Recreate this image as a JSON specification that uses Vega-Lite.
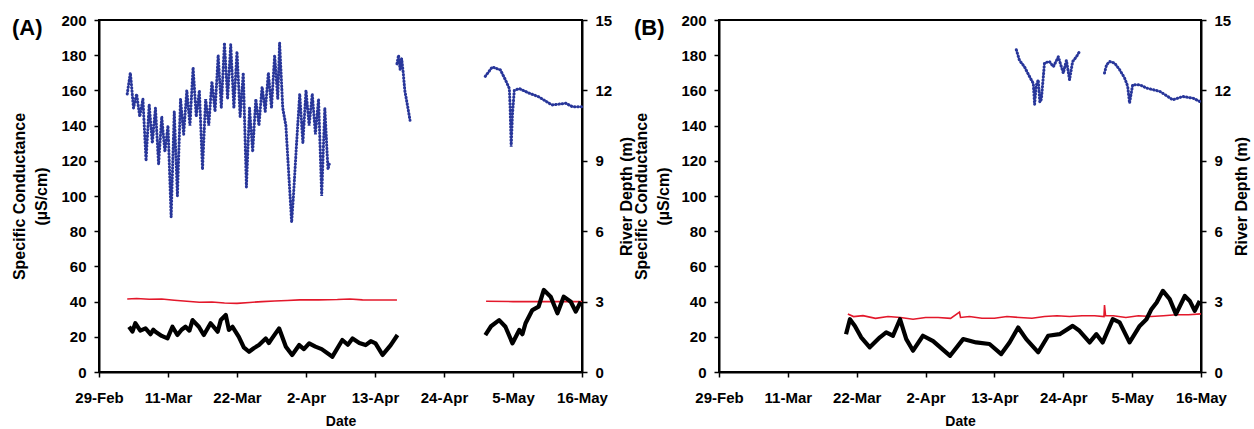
{
"$schema": "https://vega.github.io/schema/vega-lite/v6.json",
"padding": {"left": 10, "top": 12, "right": 0, "bottom": 0},
"spacing": -4,
"config": {
  "font": "Liberation Sans",
  "view": {"stroke": "black", "strokeWidth": 2},
  "axis": {"labelFont": "Liberation Sans", "labelFontWeight": "bold", "labelFontSize": 15, "labelColor": "black",
           "titleFont": "Liberation Sans", "titleFontWeight": "bold", "titleFontSize": 16, "titleColor": "black",
           "domainColor": "black", "domainWidth": 2, "tickColor": "black", "tickWidth": 1.5, "tickSize": 5, "grid": false, "labelOverlap": false}
},
"datasets": {"d": [
{"p":"A","s":"Depth","g":1,"t":"2008-03-04T12:00","v":11.85},
{"p":"A","s":"Depth","g":1,"t":"2008-03-05T00:00","v":12.75},
{"p":"A","s":"Depth","g":1,"t":"2008-03-05T12:00","v":11.25},
{"p":"A","s":"Depth","g":1,"t":"2008-03-06T00:00","v":11.85},
{"p":"A","s":"Depth","g":1,"t":"2008-03-06T12:00","v":10.88},
{"p":"A","s":"Depth","g":1,"t":"2008-03-07T00:00","v":11.63},
{"p":"A","s":"Depth","g":1,"t":"2008-03-07T12:00","v":9.0},
{"p":"A","s":"Depth","g":1,"t":"2008-03-08T00:00","v":11.4},
{"p":"A","s":"Depth","g":1,"t":"2008-03-08T12:00","v":9.75},
{"p":"A","s":"Depth","g":1,"t":"2008-03-09T00:00","v":11.25},
{"p":"A","s":"Depth","g":1,"t":"2008-03-09T12:00","v":8.85},
{"p":"A","s":"Depth","g":1,"t":"2008-03-10T00:00","v":10.88},
{"p":"A","s":"Depth","g":1,"t":"2008-03-10T12:00","v":9.38},
{"p":"A","s":"Depth","g":1,"t":"2008-03-11T00:00","v":10.5},
{"p":"A","s":"Depth","g":1,"t":"2008-03-11T12:00","v":6.6},
{"p":"A","s":"Depth","g":1,"t":"2008-03-12T00:00","v":11.1},
{"p":"A","s":"Depth","g":1,"t":"2008-03-12T12:00","v":7.5},
{"p":"A","s":"Depth","g":1,"t":"2008-03-13T00:00","v":11.63},
{"p":"A","s":"Depth","g":1,"t":"2008-03-13T12:00","v":10.13},
{"p":"A","s":"Depth","g":1,"t":"2008-03-14T00:00","v":12.0},
{"p":"A","s":"Depth","g":1,"t":"2008-03-14T12:00","v":10.5},
{"p":"A","s":"Depth","g":1,"t":"2008-03-15T00:00","v":12.98},
{"p":"A","s":"Depth","g":1,"t":"2008-03-15T12:00","v":10.88},
{"p":"A","s":"Depth","g":1,"t":"2008-03-16T00:00","v":12.0},
{"p":"A","s":"Depth","g":1,"t":"2008-03-16T12:00","v":8.63},
{"p":"A","s":"Depth","g":1,"t":"2008-03-17T00:00","v":11.63},
{"p":"A","s":"Depth","g":1,"t":"2008-03-17T12:00","v":10.5},
{"p":"A","s":"Depth","g":1,"t":"2008-03-18T00:00","v":12.38},
{"p":"A","s":"Depth","g":1,"t":"2008-03-18T12:00","v":11.1},
{"p":"A","s":"Depth","g":1,"t":"2008-03-19T00:00","v":13.5},
{"p":"A","s":"Depth","g":1,"t":"2008-03-19T12:00","v":11.25},
{"p":"A","s":"Depth","g":1,"t":"2008-03-20T00:00","v":14.03},
{"p":"A","s":"Depth","g":1,"t":"2008-03-20T12:00","v":11.63},
{"p":"A","s":"Depth","g":1,"t":"2008-03-21T00:00","v":13.95},
{"p":"A","s":"Depth","g":1,"t":"2008-03-21T12:00","v":11.25},
{"p":"A","s":"Depth","g":1,"t":"2008-03-22T00:00","v":13.65},
{"p":"A","s":"Depth","g":1,"t":"2008-03-22T12:00","v":10.88},
{"p":"A","s":"Depth","g":1,"t":"2008-03-23T00:00","v":12.75},
{"p":"A","s":"Depth","g":1,"t":"2008-03-23T12:00","v":7.88},
{"p":"A","s":"Depth","g":1,"t":"2008-03-24T00:00","v":11.25},
{"p":"A","s":"Depth","g":1,"t":"2008-03-24T12:00","v":9.38},
{"p":"A","s":"Depth","g":1,"t":"2008-03-25T00:00","v":11.63},
{"p":"A","s":"Depth","g":1,"t":"2008-03-25T12:00","v":10.5},
{"p":"A","s":"Depth","g":1,"t":"2008-03-26T00:00","v":12.15},
{"p":"A","s":"Depth","g":1,"t":"2008-03-26T12:00","v":11.1},
{"p":"A","s":"Depth","g":1,"t":"2008-03-27T00:00","v":12.75},
{"p":"A","s":"Depth","g":1,"t":"2008-03-27T12:00","v":11.25},
{"p":"A","s":"Depth","g":1,"t":"2008-03-28T00:00","v":13.5},
{"p":"A","s":"Depth","g":1,"t":"2008-03-28T12:00","v":11.63},
{"p":"A","s":"Depth","g":1,"t":"2008-03-28T19:00","v":14.03},
{"p":"A","s":"Depth","g":1,"t":"2008-03-29T07:00","v":11.25},
{"p":"A","s":"Depth","g":1,"t":"2008-03-29T19:00","v":10.5},
{"p":"A","s":"Depth","g":1,"t":"2008-03-30T07:00","v":8.25},
{"p":"A","s":"Depth","g":1,"t":"2008-03-30T17:00","v":6.38},
{"p":"A","s":"Depth","g":1,"t":"2008-03-31T00:00","v":7.5},
{"p":"A","s":"Depth","g":1,"t":"2008-03-31T12:00","v":9.75},
{"p":"A","s":"Depth","g":1,"t":"2008-04-01T00:00","v":11.85},
{"p":"A","s":"Depth","g":1,"t":"2008-04-01T12:00","v":9.75},
{"p":"A","s":"Depth","g":1,"t":"2008-04-02T00:00","v":12.0},
{"p":"A","s":"Depth","g":1,"t":"2008-04-02T12:00","v":10.5},
{"p":"A","s":"Depth","g":1,"t":"2008-04-03T00:00","v":11.85},
{"p":"A","s":"Depth","g":1,"t":"2008-04-03T12:00","v":10.13},
{"p":"A","s":"Depth","g":1,"t":"2008-04-04T00:00","v":11.63},
{"p":"A","s":"Depth","g":1,"t":"2008-04-04T12:00","v":7.5},
{"p":"A","s":"Depth","g":1,"t":"2008-04-05T00:00","v":11.25},
{"p":"A","s":"Depth","g":1,"t":"2008-04-05T12:00","v":8.63},
{"p":"A","s":"Depth","g":1,"t":"2008-04-05T17:00","v":8.85},
{"p":"A","s":"Depth","g":2,"t":"2008-04-16T12:00","v":13.13},
{"p":"A","s":"Depth","g":2,"t":"2008-04-16T18:00","v":13.5},
{"p":"A","s":"Depth","g":2,"t":"2008-04-17T00:00","v":12.9},
{"p":"A","s":"Depth","g":2,"t":"2008-04-17T06:00","v":13.35},
{"p":"A","s":"Depth","g":2,"t":"2008-04-17T12:00","v":12.75},
{"p":"A","s":"Depth","g":2,"t":"2008-04-17T18:00","v":12.0},
{"p":"A","s":"Depth","g":2,"t":"2008-04-18T06:00","v":11.25},
{"p":"A","s":"Depth","g":2,"t":"2008-04-18T14:00","v":10.73},
{"p":"A","s":"Depth","g":3,"t":"2008-04-30T14:00","v":12.6},
{"p":"A","s":"Depth","g":3,"t":"2008-05-01T17:00","v":13.0},
{"p":"A","s":"Depth","g":3,"t":"2008-05-03T00:00","v":12.87},
{"p":"A","s":"Depth","g":3,"t":"2008-05-03T19:00","v":12.45},
{"p":"A","s":"Depth","g":3,"t":"2008-05-04T10:00","v":12.08},
{"p":"A","s":"Depth","g":3,"t":"2008-05-04T13:00","v":11.3},
{"p":"A","s":"Depth","g":3,"t":"2008-05-04T17:00","v":9.6},
{"p":"A","s":"Depth","g":3,"t":"2008-05-04T22:00","v":11.0},
{"p":"A","s":"Depth","g":3,"t":"2008-05-05T05:00","v":12.0},
{"p":"A","s":"Depth","g":3,"t":"2008-05-06T00:00","v":12.08},
{"p":"A","s":"Depth","g":3,"t":"2008-05-07T12:00","v":11.89},
{"p":"A","s":"Depth","g":3,"t":"2008-05-09T02:00","v":11.73},
{"p":"A","s":"Depth","g":3,"t":"2008-05-11T05:00","v":11.38},
{"p":"A","s":"Depth","g":3,"t":"2008-05-13T10:00","v":11.45},
{"p":"A","s":"Depth","g":3,"t":"2008-05-14T12:00","v":11.3},
{"p":"A","s":"Depth","g":3,"t":"2008-05-16T00:00","v":11.3},

{"p":"A","s":"SC1","g":1,"t":"2008-03-04T12:00","v":41.5},
{"p":"A","s":"SC1","g":1,"t":"2008-03-06T00:00","v":41.8},
{"p":"A","s":"SC1","g":1,"t":"2008-03-08T00:00","v":41.3},
{"p":"A","s":"SC1","g":1,"t":"2008-03-10T00:00","v":41.5},
{"p":"A","s":"SC1","g":1,"t":"2008-03-12T00:00","v":40.8},
{"p":"A","s":"SC1","g":1,"t":"2008-03-14T00:00","v":40.2},
{"p":"A","s":"SC1","g":1,"t":"2008-03-16T00:00","v":39.6},
{"p":"A","s":"SC1","g":1,"t":"2008-03-18T00:00","v":39.8},
{"p":"A","s":"SC1","g":1,"t":"2008-03-20T00:00","v":39.2},
{"p":"A","s":"SC1","g":1,"t":"2008-03-22T00:00","v":39.0},
{"p":"A","s":"SC1","g":1,"t":"2008-03-24T00:00","v":39.5},
{"p":"A","s":"SC1","g":1,"t":"2008-03-26T00:00","v":40.0},
{"p":"A","s":"SC1","g":1,"t":"2008-03-28T00:00","v":40.3},
{"p":"A","s":"SC1","g":1,"t":"2008-03-30T00:00","v":40.6},
{"p":"A","s":"SC1","g":1,"t":"2008-04-01T00:00","v":41.0},
{"p":"A","s":"SC1","g":1,"t":"2008-04-04T00:00","v":41.0},
{"p":"A","s":"SC1","g":1,"t":"2008-04-07T00:00","v":41.2},
{"p":"A","s":"SC1","g":1,"t":"2008-04-09T00:00","v":41.5},
{"p":"A","s":"SC1","g":1,"t":"2008-04-11T00:00","v":41.0},
{"p":"A","s":"SC1","g":1,"t":"2008-04-13T00:00","v":40.9},
{"p":"A","s":"SC1","g":1,"t":"2008-04-16T12:00","v":40.9},
{"p":"A","s":"SC1","g":2,"t":"2008-04-30T17:00","v":40.2},
{"p":"A","s":"SC1","g":2,"t":"2008-05-05T00:00","v":40.0},
{"p":"A","s":"SC1","g":2,"t":"2008-05-09T00:00","v":40.0},
{"p":"A","s":"SC1","g":2,"t":"2008-05-13T00:00","v":40.0},
{"p":"A","s":"SC1","g":2,"t":"2008-05-16T00:00","v":40.0},

{"p":"A","s":"SC2","g":1,"t":"2008-03-04T19:00","v":25.7},
{"p":"A","s":"SC2","g":1,"t":"2008-03-05T08:00","v":23.0},
{"p":"A","s":"SC2","g":1,"t":"2008-03-05T19:00","v":27.7},
{"p":"A","s":"SC2","g":1,"t":"2008-03-06T14:00","v":23.5},
{"p":"A","s":"SC2","g":1,"t":"2008-03-07T10:00","v":24.8},
{"p":"A","s":"SC2","g":1,"t":"2008-03-08T05:00","v":21.5},
{"p":"A","s":"SC2","g":1,"t":"2008-03-08T16:00","v":24.0},
{"p":"A","s":"SC2","g":1,"t":"2008-03-09T00:00","v":22.9},
{"p":"A","s":"SC2","g":1,"t":"2008-03-10T00:00","v":20.5},
{"p":"A","s":"SC2","g":1,"t":"2008-03-10T22:00","v":19.1},
{"p":"A","s":"SC2","g":1,"t":"2008-03-11T17:00","v":25.7},
{"p":"A","s":"SC2","g":1,"t":"2008-03-12T12:00","v":21.0},
{"p":"A","s":"SC2","g":1,"t":"2008-03-13T04:00","v":24.0},
{"p":"A","s":"SC2","g":1,"t":"2008-03-13T19:00","v":25.7},
{"p":"A","s":"SC2","g":1,"t":"2008-03-14T10:00","v":23.5},
{"p":"A","s":"SC2","g":1,"t":"2008-03-14T22:00","v":29.5},
{"p":"A","s":"SC2","g":1,"t":"2008-03-15T22:00","v":25.7},
{"p":"A","s":"SC2","g":1,"t":"2008-03-16T17:00","v":21.0},
{"p":"A","s":"SC2","g":1,"t":"2008-03-17T19:00","v":27.7},
{"p":"A","s":"SC2","g":1,"t":"2008-03-18T22:00","v":22.9},
{"p":"A","s":"SC2","g":1,"t":"2008-03-19T10:00","v":29.5},
{"p":"A","s":"SC2","g":1,"t":"2008-03-20T05:00","v":32.4},
{"p":"A","s":"SC2","g":1,"t":"2008-03-20T17:00","v":23.9},
{"p":"A","s":"SC2","g":1,"t":"2008-03-21T07:00","v":25.7},
{"p":"A","s":"SC2","g":1,"t":"2008-03-22T07:00","v":20.0},
{"p":"A","s":"SC2","g":1,"t":"2008-03-23T02:00","v":14.0},
{"p":"A","s":"SC2","g":1,"t":"2008-03-23T22:00","v":11.5},
{"p":"A","s":"SC2","g":1,"t":"2008-03-24T16:00","v":13.5},
{"p":"A","s":"SC2","g":1,"t":"2008-03-25T12:00","v":15.3},
{"p":"A","s":"SC2","g":1,"t":"2008-03-26T14:00","v":19.1},
{"p":"A","s":"SC2","g":1,"t":"2008-03-27T02:00","v":16.5},
{"p":"A","s":"SC2","g":1,"t":"2008-03-27T14:00","v":19.1},
{"p":"A","s":"SC2","g":1,"t":"2008-03-28T17:00","v":24.8},
{"p":"A","s":"SC2","g":1,"t":"2008-03-29T19:00","v":14.4},
{"p":"A","s":"SC2","g":1,"t":"2008-03-30T19:00","v":9.7},
{"p":"A","s":"SC2","g":1,"t":"2008-03-31T22:00","v":15.3},
{"p":"A","s":"SC2","g":1,"t":"2008-04-01T16:00","v":13.0},
{"p":"A","s":"SC2","g":1,"t":"2008-04-02T12:00","v":16.3},
{"p":"A","s":"SC2","g":1,"t":"2008-04-03T12:00","v":14.4},
{"p":"A","s":"SC2","g":1,"t":"2008-04-04T12:00","v":13.0},
{"p":"A","s":"SC2","g":1,"t":"2008-04-06T05:00","v":8.7},
{"p":"A","s":"SC2","g":1,"t":"2008-04-07T19:00","v":18.2},
{"p":"A","s":"SC2","g":1,"t":"2008-04-08T16:00","v":15.5},
{"p":"A","s":"SC2","g":1,"t":"2008-04-09T10:00","v":19.1},
{"p":"A","s":"SC2","g":1,"t":"2008-04-10T12:00","v":16.5},
{"p":"A","s":"SC2","g":1,"t":"2008-04-11T12:00","v":15.3},
{"p":"A","s":"SC2","g":1,"t":"2008-04-12T08:00","v":17.5},
{"p":"A","s":"SC2","g":1,"t":"2008-04-13T02:00","v":16.3},
{"p":"A","s":"SC2","g":1,"t":"2008-04-14T05:00","v":9.7},
{"p":"A","s":"SC2","g":1,"t":"2008-04-15T12:00","v":15.3},
{"p":"A","s":"SC2","g":1,"t":"2008-04-16T14:00","v":21.0},
{"p":"A","s":"SC2","g":2,"t":"2008-04-30T14:00","v":21.0},
{"p":"A","s":"SC2","g":2,"t":"2008-05-01T12:00","v":26.0},
{"p":"A","s":"SC2","g":2,"t":"2008-05-02T19:00","v":29.5},
{"p":"A","s":"SC2","g":2,"t":"2008-05-03T19:00","v":25.7},
{"p":"A","s":"SC2","g":2,"t":"2008-05-04T22:00","v":16.3},
{"p":"A","s":"SC2","g":2,"t":"2008-05-06T00:00","v":23.9},
{"p":"A","s":"SC2","g":2,"t":"2008-05-06T12:00","v":21.5},
{"p":"A","s":"SC2","g":2,"t":"2008-05-07T00:00","v":27.7},
{"p":"A","s":"SC2","g":2,"t":"2008-05-08T02:00","v":35.2},
{"p":"A","s":"SC2","g":2,"t":"2008-05-09T02:00","v":37.1},
{"p":"A","s":"SC2","g":2,"t":"2008-05-09T22:00","v":46.6},
{"p":"A","s":"SC2","g":2,"t":"2008-05-11T00:00","v":42.8},
{"p":"A","s":"SC2","g":2,"t":"2008-05-12T02:00","v":33.4},
{"p":"A","s":"SC2","g":2,"t":"2008-05-13T02:00","v":42.8},
{"p":"A","s":"SC2","g":2,"t":"2008-05-14T05:00","v":39.9},
{"p":"A","s":"SC2","g":2,"t":"2008-05-15T00:00","v":34.3},
{"p":"A","s":"SC2","g":2,"t":"2008-05-15T19:00","v":39.9},

{"p":"B","s":"Depth","g":1,"t":"2008-04-16T12:00","v":13.73},
{"p":"B","s":"Depth","g":1,"t":"2008-04-17T00:00","v":13.28},
{"p":"B","s":"Depth","g":1,"t":"2008-04-17T19:00","v":13.01},
{"p":"B","s":"Depth","g":1,"t":"2008-04-18T14:00","v":12.6},
{"p":"B","s":"Depth","g":1,"t":"2008-04-19T05:00","v":12.3},
{"p":"B","s":"Depth","g":1,"t":"2008-04-19T10:00","v":11.4},
{"p":"B","s":"Depth","g":1,"t":"2008-04-19T16:00","v":12.2},
{"p":"B","s":"Depth","g":1,"t":"2008-04-20T00:00","v":12.45},
{"p":"B","s":"Depth","g":1,"t":"2008-04-20T06:00","v":11.5},
{"p":"B","s":"Depth","g":1,"t":"2008-04-20T12:00","v":11.63},
{"p":"B","s":"Depth","g":1,"t":"2008-04-21T00:00","v":13.17},
{"p":"B","s":"Depth","g":1,"t":"2008-04-21T19:00","v":13.23},
{"p":"B","s":"Depth","g":1,"t":"2008-04-22T10:00","v":13.01},
{"p":"B","s":"Depth","g":1,"t":"2008-04-23T05:00","v":13.43},
{"p":"B","s":"Depth","g":1,"t":"2008-04-24T00:00","v":12.74},
{"p":"B","s":"Depth","g":1,"t":"2008-04-24T12:00","v":13.28},
{"p":"B","s":"Depth","g":1,"t":"2008-04-25T00:00","v":12.45},
{"p":"B","s":"Depth","g":1,"t":"2008-04-25T12:00","v":13.23},
{"p":"B","s":"Depth","g":1,"t":"2008-04-26T02:00","v":13.43},
{"p":"B","s":"Depth","g":1,"t":"2008-04-26T14:00","v":13.65},
{"p":"B","s":"Depth","g":2,"t":"2008-04-30T14:00","v":12.74},
{"p":"B","s":"Depth","g":2,"t":"2008-04-30T22:00","v":13.09},
{"p":"B","s":"Depth","g":2,"t":"2008-05-01T10:00","v":13.23},
{"p":"B","s":"Depth","g":2,"t":"2008-05-02T05:00","v":13.16},
{"p":"B","s":"Depth","g":2,"t":"2008-05-03T00:00","v":12.88},
{"p":"B","s":"Depth","g":2,"t":"2008-05-03T19:00","v":12.53},
{"p":"B","s":"Depth","g":2,"t":"2008-05-04T07:00","v":12.17},
{"p":"B","s":"Depth","g":2,"t":"2008-05-04T14:00","v":11.46},
{"p":"B","s":"Depth","g":2,"t":"2008-05-05T02:00","v":12.24},
{"p":"B","s":"Depth","g":2,"t":"2008-05-06T05:00","v":12.24},
{"p":"B","s":"Depth","g":2,"t":"2008-05-07T07:00","v":12.1},
{"p":"B","s":"Depth","g":2,"t":"2008-05-09T10:00","v":11.96},
{"p":"B","s":"Depth","g":2,"t":"2008-05-11T12:00","v":11.6},
{"p":"B","s":"Depth","g":2,"t":"2008-05-13T02:00","v":11.74},
{"p":"B","s":"Depth","g":2,"t":"2008-05-14T17:00","v":11.67},
{"p":"B","s":"Depth","g":2,"t":"2008-05-15T19:00","v":11.53},

{"p":"B","s":"SC1","g":1,"t":"2008-03-20T14:00","v":33.0},
{"p":"B","s":"SC1","g":1,"t":"2008-03-21T12:00","v":31.5},
{"p":"B","s":"SC1","g":1,"t":"2008-03-23T00:00","v":32.0},
{"p":"B","s":"SC1","g":1,"t":"2008-03-25T00:00","v":30.5},
{"p":"B","s":"SC1","g":1,"t":"2008-03-27T00:00","v":31.5},
{"p":"B","s":"SC1","g":1,"t":"2008-03-29T00:00","v":31.0},
{"p":"B","s":"SC1","g":1,"t":"2008-03-31T00:00","v":30.0},
{"p":"B","s":"SC1","g":1,"t":"2008-04-02T00:00","v":31.0},
{"p":"B","s":"SC1","g":1,"t":"2008-04-04T00:00","v":31.0},
{"p":"B","s":"SC1","g":1,"t":"2008-04-06T00:00","v":30.5},
{"p":"B","s":"SC1","g":1,"t":"2008-04-07T10:00","v":34.0},
{"p":"B","s":"SC1","g":1,"t":"2008-04-07T14:00","v":31.0},
{"p":"B","s":"SC1","g":1,"t":"2008-04-09T00:00","v":31.5},
{"p":"B","s":"SC1","g":1,"t":"2008-04-11T00:00","v":30.5},
{"p":"B","s":"SC1","g":1,"t":"2008-04-13T00:00","v":30.5},
{"p":"B","s":"SC1","g":1,"t":"2008-04-15T00:00","v":31.5},
{"p":"B","s":"SC1","g":1,"t":"2008-04-17T00:00","v":31.0},
{"p":"B","s":"SC1","g":1,"t":"2008-04-19T00:00","v":30.5},
{"p":"B","s":"SC1","g":1,"t":"2008-04-21T00:00","v":31.5},
{"p":"B","s":"SC1","g":1,"t":"2008-04-23T00:00","v":32.0},
{"p":"B","s":"SC1","g":1,"t":"2008-04-25T00:00","v":31.5},
{"p":"B","s":"SC1","g":1,"t":"2008-04-27T00:00","v":32.0},
{"p":"B","s":"SC1","g":1,"t":"2008-04-29T00:00","v":32.0},
{"p":"B","s":"SC1","g":1,"t":"2008-04-30T12:00","v":31.5},
{"p":"B","s":"SC1","g":1,"t":"2008-04-30T14:00","v":38.0},
{"p":"B","s":"SC1","g":1,"t":"2008-04-30T18:00","v":32.0},
{"p":"B","s":"SC1","g":1,"t":"2008-05-02T00:00","v":32.0},
{"p":"B","s":"SC1","g":1,"t":"2008-05-04T00:00","v":31.0},
{"p":"B","s":"SC1","g":1,"t":"2008-05-06T00:00","v":32.0},
{"p":"B","s":"SC1","g":1,"t":"2008-05-08T00:00","v":31.5},
{"p":"B","s":"SC1","g":1,"t":"2008-05-10T00:00","v":32.0},
{"p":"B","s":"SC1","g":1,"t":"2008-05-12T00:00","v":32.5},
{"p":"B","s":"SC1","g":1,"t":"2008-05-14T00:00","v":32.5},
{"p":"B","s":"SC1","g":1,"t":"2008-05-16T00:00","v":33.0},

{"p":"B","s":"SC2","g":1,"t":"2008-03-20T07:00","v":21.5},
{"p":"B","s":"SC2","g":1,"t":"2008-03-20T22:00","v":30.0},
{"p":"B","s":"SC2","g":1,"t":"2008-03-21T17:00","v":26.2},
{"p":"B","s":"SC2","g":1,"t":"2008-03-22T17:00","v":19.7},
{"p":"B","s":"SC2","g":1,"t":"2008-03-24T02:00","v":14.0},
{"p":"B","s":"SC2","g":1,"t":"2008-03-25T17:00","v":19.7},
{"p":"B","s":"SC2","g":1,"t":"2008-03-26T17:00","v":22.5},
{"p":"B","s":"SC2","g":1,"t":"2008-03-27T19:00","v":20.6},
{"p":"B","s":"SC2","g":1,"t":"2008-03-28T22:00","v":30.0},
{"p":"B","s":"SC2","g":1,"t":"2008-03-29T22:00","v":18.7},
{"p":"B","s":"SC2","g":1,"t":"2008-03-31T00:00","v":12.1},
{"p":"B","s":"SC2","g":1,"t":"2008-04-01T14:00","v":20.6},
{"p":"B","s":"SC2","g":1,"t":"2008-04-03T05:00","v":17.5},
{"p":"B","s":"SC2","g":1,"t":"2008-04-05T22:00","v":9.2},
{"p":"B","s":"SC2","g":1,"t":"2008-04-08T00:00","v":18.7},
{"p":"B","s":"SC2","g":1,"t":"2008-04-10T02:00","v":16.8},
{"p":"B","s":"SC2","g":1,"t":"2008-04-12T05:00","v":15.9},
{"p":"B","s":"SC2","g":1,"t":"2008-04-14T02:00","v":10.2},
{"p":"B","s":"SC2","g":1,"t":"2008-04-15T10:00","v":16.8},
{"p":"B","s":"SC2","g":1,"t":"2008-04-16T19:00","v":25.3},
{"p":"B","s":"SC2","g":1,"t":"2008-04-18T02:00","v":18.7},
{"p":"B","s":"SC2","g":1,"t":"2008-04-20T00:00","v":11.2},
{"p":"B","s":"SC2","g":1,"t":"2008-04-21T14:00","v":20.6},
{"p":"B","s":"SC2","g":1,"t":"2008-04-23T10:00","v":21.5},
{"p":"B","s":"SC2","g":1,"t":"2008-04-25T12:00","v":26.2},
{"p":"B","s":"SC2","g":1,"t":"2008-04-26T14:00","v":23.4},
{"p":"B","s":"SC2","g":1,"t":"2008-04-28T05:00","v":16.8},
{"p":"B","s":"SC2","g":1,"t":"2008-04-29T07:00","v":21.5},
{"p":"B","s":"SC2","g":1,"t":"2008-04-30T07:00","v":16.8},
{"p":"B","s":"SC2","g":1,"t":"2008-05-01T22:00","v":30.0},
{"p":"B","s":"SC2","g":1,"t":"2008-05-03T00:00","v":28.2},
{"p":"B","s":"SC2","g":1,"t":"2008-05-04T14:00","v":16.8},
{"p":"B","s":"SC2","g":1,"t":"2008-05-06T05:00","v":26.2},
{"p":"B","s":"SC2","g":1,"t":"2008-05-07T07:00","v":30.0},
{"p":"B","s":"SC2","g":1,"t":"2008-05-08T02:00","v":35.7},
{"p":"B","s":"SC2","g":1,"t":"2008-05-08T22:00","v":39.5},
{"p":"B","s":"SC2","g":1,"t":"2008-05-09T22:00","v":46.1},
{"p":"B","s":"SC2","g":1,"t":"2008-05-11T00:00","v":41.4},
{"p":"B","s":"SC2","g":1,"t":"2008-05-12T00:00","v":32.9},
{"p":"B","s":"SC2","g":1,"t":"2008-05-13T10:00","v":43.2},
{"p":"B","s":"SC2","g":1,"t":"2008-05-14T05:00","v":40.4},
{"p":"B","s":"SC2","g":1,"t":"2008-05-15T00:00","v":34.7},
{"p":"B","s":"SC2","g":1,"t":"2008-05-15T19:00","v":40.4}
]},
"hconcat": [
{
  "title": {"text": "(A)", "anchor": "start", "frame": "bounds", "offset": -27, "fontSize": 22, "fontWeight": "bold", "font": "Liberation Sans", "color": "black"},
  "width": 483, "height": 352,
  "data": {"name": "d"},
  "transform": [{"filter": "datum.p === 'A'"}],
  "layer": [
    {"layer": [
      {"transform": [{"filter": "datum.s === 'SC1'"}],
       "mark": {"type": "line", "color": "#E3182B", "strokeWidth": 1.6},
       "encoding": {
         "x": {"field": "t", "type": "temporal", "title": "Date",
               "scale": {"domain": [{"year": 2008, "month": 2, "date": 29}, {"year": 2008, "month": 5, "date": 16}]},
               "axis": {"values": [{"year": 2008, "month": 2, "date": 29}, {"year": 2008, "month": 3, "date": 11}, {"year": 2008, "month": 3, "date": 22}, {"year": 2008, "month": 4, "date": 2}, {"year": 2008, "month": 4, "date": 13}, {"year": 2008, "month": 4, "date": 24}, {"year": 2008, "month": 5, "date": 5}, {"year": 2008, "month": 5, "date": 16}],
                        "format": "%-d-%b", "labelPadding": 13, "titlePadding": 9, "titleFontSize": 14, "labelFlush": false}},
         "y": {"field": "v", "type": "quantitative", "scale": {"domain": [0, 200]},
               "axis": {"values": [0, 20, 40, 60, 80, 100, 120, 140, 160, 180, 200], "labelOverlap": false, "title": ["Specific Conductance", "(µS/cm)"], "titlePadding": 11, "labelPadding": 8, "titleLineHeight": 22}},
         "detail": {"field": "g", "type": "nominal"}
       }},
      {"transform": [{"filter": "datum.s === 'SC2'"}],
       "mark": {"type": "line", "color": "black", "strokeWidth": 4.2, "strokeJoin": "round"},
       "encoding": {
         "x": {"field": "t", "type": "temporal"},
         "y": {"field": "v", "type": "quantitative", "scale": {"domain": [0, 200]},
               "axis": {"values": [0, 20, 40, 60, 80, 100, 120, 140, 160, 180, 200], "labelOverlap": false, "title": ["Specific Conductance", "(µS/cm)"], "titlePadding": 11, "labelPadding": 8, "titleLineHeight": 22}},
         "detail": {"field": "g", "type": "nominal"}
       }}
    ]},
    {"transform": [{"filter": "datum.s === 'Depth'"}],
     "mark": {"type": "line", "color": "#28369A", "strokeWidth": 3, "strokeDash": [0.5, 2.8], "strokeCap": "round"},
     "encoding": {
       "x": {"field": "t", "type": "temporal"},
       "y": {"field": "v", "type": "quantitative", "scale": {"domain": [0, 15]},
             "axis": {"orient": "right", "values": [0, 3, 6, 9, 12, 15], "labelOverlap": false, "title": "River Depth (m)", "titleAngle": -90, "titlePadding": 23, "labelPadding": 8}},
       "detail": {"field": "g", "type": "nominal"}
     }}
  ],
  "resolve": {"scale": {"y": "independent"}}
},
{
  "title": {"text": "(B)", "anchor": "start", "frame": "bounds", "offset": -27, "fontSize": 22, "fontWeight": "bold", "font": "Liberation Sans", "color": "black"},
  "width": 482, "height": 352,
  "data": {"name": "d"},
  "transform": [{"filter": "datum.p === 'B'"}],
  "layer": [
    {"layer": [
      {"transform": [{"filter": "datum.s === 'SC1'"}],
       "mark": {"type": "line", "color": "#E3182B", "strokeWidth": 1.6},
       "encoding": {
         "x": {"field": "t", "type": "temporal", "title": "Date",
               "scale": {"domain": [{"year": 2008, "month": 2, "date": 29}, {"year": 2008, "month": 5, "date": 16}]},
               "axis": {"values": [{"year": 2008, "month": 2, "date": 29}, {"year": 2008, "month": 3, "date": 11}, {"year": 2008, "month": 3, "date": 22}, {"year": 2008, "month": 4, "date": 2}, {"year": 2008, "month": 4, "date": 13}, {"year": 2008, "month": 4, "date": 24}, {"year": 2008, "month": 5, "date": 5}, {"year": 2008, "month": 5, "date": 16}],
                        "format": "%-d-%b", "labelPadding": 13, "titlePadding": 9, "titleFontSize": 14, "labelFlush": false}},
         "y": {"field": "v", "type": "quantitative", "scale": {"domain": [0, 200]},
               "axis": {"values": [0, 20, 40, 60, 80, 100, 120, 140, 160, 180, 200], "labelOverlap": false, "title": ["Specific Conductance", "(µS/cm)"], "titlePadding": 9, "labelPadding": 8, "titleLineHeight": 22}},
         "detail": {"field": "g", "type": "nominal"}
       }},
      {"transform": [{"filter": "datum.s === 'SC2'"}],
       "mark": {"type": "line", "color": "black", "strokeWidth": 4.2, "strokeJoin": "round"},
       "encoding": {
         "x": {"field": "t", "type": "temporal"},
         "y": {"field": "v", "type": "quantitative", "scale": {"domain": [0, 200]},
               "axis": {"values": [0, 20, 40, 60, 80, 100, 120, 140, 160, 180, 200], "labelOverlap": false, "title": ["Specific Conductance", "(µS/cm)"], "titlePadding": 9, "labelPadding": 8, "titleLineHeight": 22}},
         "detail": {"field": "g", "type": "nominal"}
       }}
    ]},
    {"transform": [{"filter": "datum.s === 'Depth'"}],
     "mark": {"type": "line", "color": "#28369A", "strokeWidth": 3, "strokeDash": [0.5, 2.8], "strokeCap": "round"},
     "encoding": {
       "x": {"field": "t", "type": "temporal"},
       "y": {"field": "v", "type": "quantitative", "scale": {"domain": [0, 15]},
             "axis": {"orient": "right", "values": [0, 3, 6, 9, 12, 15], "labelOverlap": false, "title": "River Depth (m)", "titleAngle": -90, "titlePadding": 19, "labelPadding": 8}},
       "detail": {"field": "g", "type": "nominal"}
     }}
  ],
  "resolve": {"scale": {"y": "independent"}}
}
]
}
